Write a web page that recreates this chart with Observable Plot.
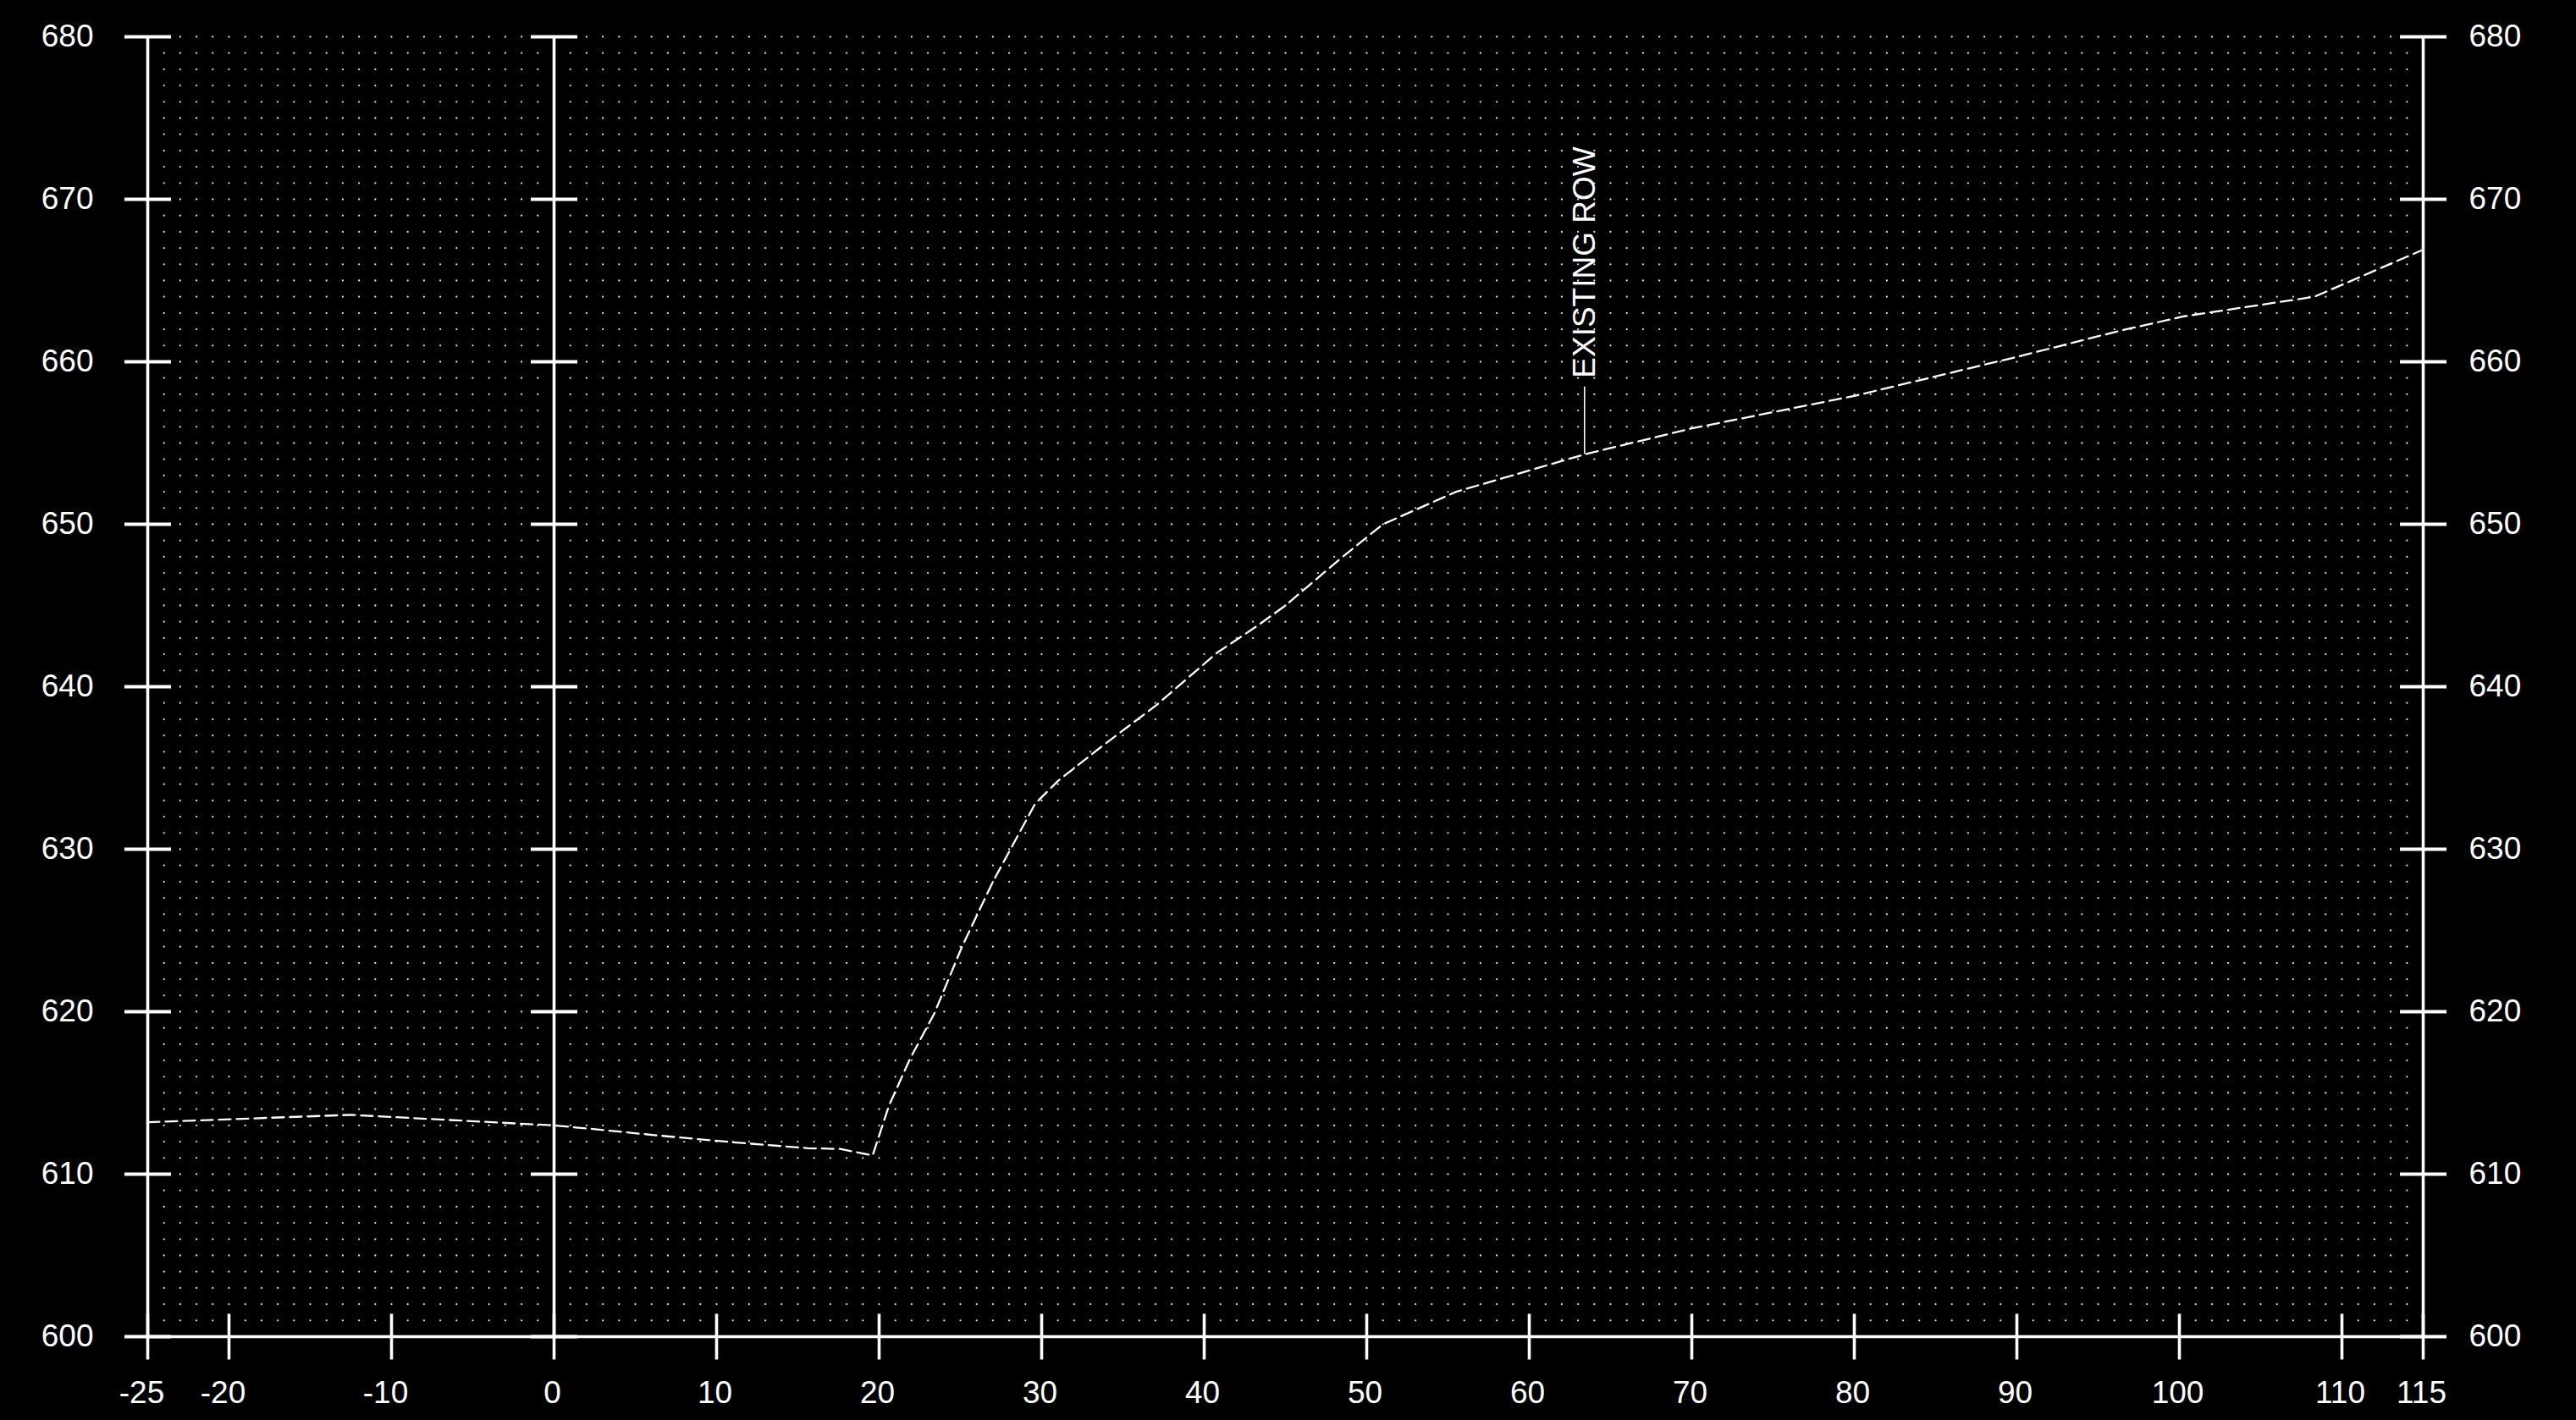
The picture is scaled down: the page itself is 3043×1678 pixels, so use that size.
<!DOCTYPE html>
<html>
<head>
<meta charset="utf-8">
<script src="https://cdn.jsdelivr.net/npm/d3@7"></script>
<script src="https://cdn.jsdelivr.net/npm/@observablehq/plot@0.6"></script>
<style>
  html, body { margin: 0; padding: 0; background: #000; overflow: hidden; }
  #chart { width: 3043px; height: 1678px; }
</style>
</head>
<body>
<div id="chart"></div>
<script>
// ---- data ----
const xTicks = [-25, -20, -10, 0, 10, 20, 30, 40, 50, 60, 70, 80, 90, 100, 110, 115];
const yTicks = [600, 610, 620, 630, 640, 650, 660, 670, 680];
const frameX = [-25, 0, 115];          // vertical reference lines (left axis, centerline, right axis)

const profileX = [-25, -12.5, 0, 2.5, 6.4, 11.4, 15.6, 17.6, 19.6, 20.6, 21.9, 23.4, 25.1, 27.0, 29.6, 31.0, 33.6, 37.1, 40.8, 43.2, 45.0, 48.4, 51.0, 55.5, 63.4, 70.0, 77.0, 80.0, 90.0, 96.3, 100.3, 108.3, 115];
const profileY = [613.2, 613.65, 613.0, 612.77, 612.38, 611.93, 611.6, 611.55, 611.15, 614.2, 617.1, 619.9, 624.0, 628.0, 632.8, 634.2, 636.25, 638.9, 642.1, 643.7, 645.0, 647.9, 650.0, 652.0, 654.3, 655.9, 657.3, 657.9, 660.3, 661.9, 662.8, 664.0, 666.9];

const labelText = "EXISTING ROW";
const labelAtX = 63.4;   // station where the leader meets the profile
const labelAtY = 654.3;

// ---- derived tables ----
const profile = profileX.map((x, i) => ({x, y: profileY[i]}));
const gridPts = [];
for (let gx = -24; gx <= 114; gx++) for (let gy = 601; gy <= 680; gy++) gridPts.push({x: gx, y: gy});
const yTickPts = frameX.flatMap(fx => yTicks.map(y => ({x: fx, y})));

const hline = {draw(ctx, size) { const r = Math.sqrt(size / Math.PI); ctx.moveTo(-r, 0); ctx.lineTo(r, 0); }};
const vline = {draw(ctx, size) { const r = Math.sqrt(size / Math.PI); ctx.moveTo(0, -r); ctx.lineTo(0, r); }};

const font = "'Liberation Sans', Arial, Helvetica, sans-serif";
const fs = 37;

const chart = Plot.plot({
  width: 3043,
  height: 1678,
  marginLeft: 174,
  marginRight: 181,
  marginTop: 43,
  marginBottom: 99,
  style: {background: "#000", color: "#fff", fontFamily: font},
  x: {domain: [-25, 115], axis: null},
  y: {domain: [600, 680], axis: null},
  marks: [
    Plot.dot(gridPts, {x: "x", y: "y", r: 1.15, fill: "#e0e0e0", stroke: null}),
    Plot.line(profile, {x: "x", y: "y", stroke: "#fff", strokeWidth: 2.3, strokeDasharray: "14,7"}),
    Plot.ruleX(frameX, {x: d => d, y1: 600, y2: 680, stroke: "#fff", strokeWidth: 3.6}),
    Plot.ruleY([600], {x1: -25, x2: 115, stroke: "#fff", strokeWidth: 3.6}),
    Plot.dot(yTickPts, {x: "x", y: "y", symbol: hline, r: 27.5, stroke: "#fff", strokeWidth: 3.8, fill: null}),
    Plot.dot(xTicks, {x: d => d, y: 600, symbol: vline, r: 27, stroke: "#fff", strokeWidth: 3.6, fill: null}),
    // y labels left and right
    Plot.text(yTicks, {x: -25, y: d => d, text: d => String(d), textAnchor: "end", dx: -64, fill: "#fff", fontSize: fs}),
    Plot.text(yTicks, {x: 115, y: d => d, text: d => String(d), textAnchor: "start", dx: 54, fill: "#fff", fontSize: fs}),
    // x labels (digits centred on tick, minus sign hangs left)
    Plot.text(xTicks.filter(d => d < 0), {x: d => d, y: 600, text: d => "-" + Math.abs(d), textAnchor: "middle", dx: -7, dy: 67, fill: "#fff", fontSize: fs}),
    Plot.text(xTicks.filter(d => d >= 0), {x: d => d, y: 600, text: d => String(d), textAnchor: "middle", dx: -2, dy: 67, fill: "#fff", fontSize: fs}),
    // annotation
    Plot.ruleX([labelAtX], {x: d => d, y1: labelAtY, y2: labelAtY + 4.15, stroke: "#fff", strokeWidth: 1.6}),
    Plot.text([labelText], {x: labelAtX, y: labelAtY + 4.7, text: d => d, rotate: -90, textAnchor: "start", fill: "#fff", fontSize: fs})
  ]
});
document.getElementById("chart").appendChild(chart);
</script>
</body>
</html>
